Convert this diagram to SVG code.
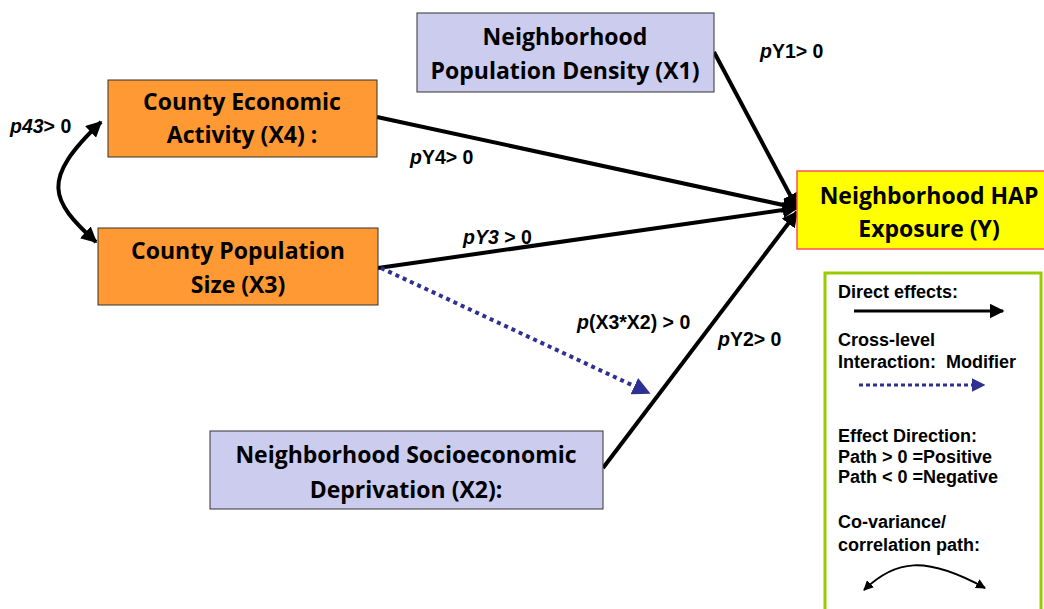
<svg xmlns="http://www.w3.org/2000/svg" width="1044" height="609" viewBox="0 0 1044 609">
<style>
.node{font-family:"Open Sans","Liberation Sans",sans-serif;font-weight:bold;font-size:23px;fill:#000;text-anchor:middle}
.lbl{font-family:"Liberation Sans",Arial,sans-serif;font-weight:bold;font-size:19.5px;fill:#000}
.leg{font-family:"Liberation Sans",Arial,sans-serif;font-weight:bold;font-size:18px;fill:#000}
.conn{stroke:#000;stroke-width:4;fill:none}
.blue{fill:#CCCCEE;stroke:#333;stroke-width:1}
.orange{fill:#FF9933;stroke:#333;stroke-width:1}
</style>
<defs>
<marker id="ah" viewBox="0 0 10 10" refX="9" refY="5" markerWidth="4" markerHeight="4" orient="auto" markerUnits="strokeWidth"><path d="M0,0L10,5L0,10z" fill="#000"/></marker>
<marker id="ahs" viewBox="0 0 10 10" refX="9" refY="5" markerWidth="4" markerHeight="4" orient="auto-start-reverse" markerUnits="strokeWidth"><path d="M0,0L10,5L0,10z" fill="#000"/></marker>
<marker id="ahb" viewBox="0 0 10 10" refX="9" refY="5" markerWidth="4.5" markerHeight="4.5" orient="auto" markerUnits="strokeWidth"><path d="M0,0L10,5L0,10z" fill="#2E3192"/></marker>
<marker id="ahg" viewBox="0 0 10 10" refX="9" refY="5" markerWidth="5" markerHeight="5" orient="auto" markerUnits="strokeWidth"><path d="M0,0L10,5L0,10z" fill="#000"/></marker>
<marker id="ahl" viewBox="0 0 10 10" refX="9" refY="5" markerWidth="5" markerHeight="5" orient="auto-start-reverse" markerUnits="strokeWidth"><path d="M0,0L10,5L0,10z" fill="#000"/></marker>
</defs>
<rect width="1044" height="609" fill="#fff"/>
<g id="connectors">
<line class="conn" x1="714" y1="52" x2="797" y2="208" marker-end="url(#ah)"/>
<line class="conn" x1="377" y1="117" x2="797" y2="208" marker-end="url(#ah)"/>
<line class="conn" x1="378" y1="268" x2="797" y2="208" marker-end="url(#ah)"/>
<line class="conn" x1="603" y1="468" x2="797" y2="212" marker-end="url(#ah)"/>
<line x1="381" y1="268" x2="649" y2="393" stroke="#2E3192" stroke-width="4" stroke-dasharray="4,4" marker-end="url(#ahb)"/>
<path class="conn" d="M101,122 C40,180 50,200 96,242" marker-start="url(#ahs)" marker-end="url(#ah)"/>
</g>
<g id="X1"><rect class="blue" x="417" y="13" width="297" height="79"/><text class="node" x="565" y="45">Neighborhood</text><text class="node" x="565" y="79">Population Density (X1)</text></g>
<g id="X4"><rect class="orange" x="108" y="80" width="269" height="77"/><text class="node" x="242" y="110">County Economic</text><text class="node" x="242" y="143">Activity (X4) :</text></g>
<g id="X3"><rect class="orange" x="98" y="228" width="280" height="77"/><text class="node" x="238" y="259">County Population</text><text class="node" x="238" y="293">Size (X3)</text></g>
<g id="X2"><rect class="blue" x="210" y="431" width="393" height="78"/><text class="node" x="406" y="463">Neighborhood Socioeconomic</text><text class="node" x="406" y="498">Deprivation (X2):</text></g>
<g id="Y"><rect x="797" y="171" width="250" height="78" fill="#FFFF00" stroke="#FF5050" stroke-width="1.5"/><text class="node" x="929" y="204">Neighborhood HAP</text><text class="node" x="929" y="237">Exposure (Y)</text></g>
<g id="labels">
<text class="lbl" x="760" y="58"><tspan font-style="italic">p</tspan>Y1&gt; 0</text>
<text class="lbl" x="410" y="164"><tspan font-style="italic">p</tspan>Y4&gt; 0</text>
<text class="lbl" x="463" y="244"><tspan font-style="italic">pY3</tspan> &gt; 0</text>
<text class="lbl" x="577" y="329"><tspan font-style="italic">p</tspan>(X3*X2) &gt; 0</text>
<text class="lbl" x="718" y="346"><tspan font-style="italic">p</tspan>Y2&gt; 0</text>
<text class="lbl" x="10" y="133"><tspan font-style="italic">p43</tspan>&gt; 0</text>
</g>
<g id="legend">
<rect x="825" y="273" width="216" height="340" fill="#fff" stroke="#99CC00" stroke-width="3"/>
<text class="leg" x="838" y="298">Direct effects:</text>
<line x1="854" y1="311" x2="1003" y2="311" stroke="#000" stroke-width="3" marker-end="url(#ahg)"/>
<text class="leg" x="838" y="346">Cross-level</text>
<text class="leg" x="838" y="368" xml:space="preserve">Interaction:  Modifier</text>
<line x1="859" y1="385" x2="984" y2="385" stroke="#2E3192" stroke-width="3" stroke-dasharray="4,3" marker-end="url(#ahb)"/>
<text class="leg" x="838" y="442">Effect Direction:</text>
<text class="leg" x="838" y="463">Path &gt; 0 =Positive</text>
<text class="leg" x="838" y="483">Path &lt; 0 =Negative</text>
<text class="leg" x="838" y="528">Co-variance/</text>
<text class="leg" x="838" y="551">correlation path:</text>
<path d="M864,590 C895,560 925,555 985,588" fill="none" stroke="#000" stroke-width="2" marker-start="url(#ahl)" marker-end="url(#ahl)"/>
</g>
</svg>
